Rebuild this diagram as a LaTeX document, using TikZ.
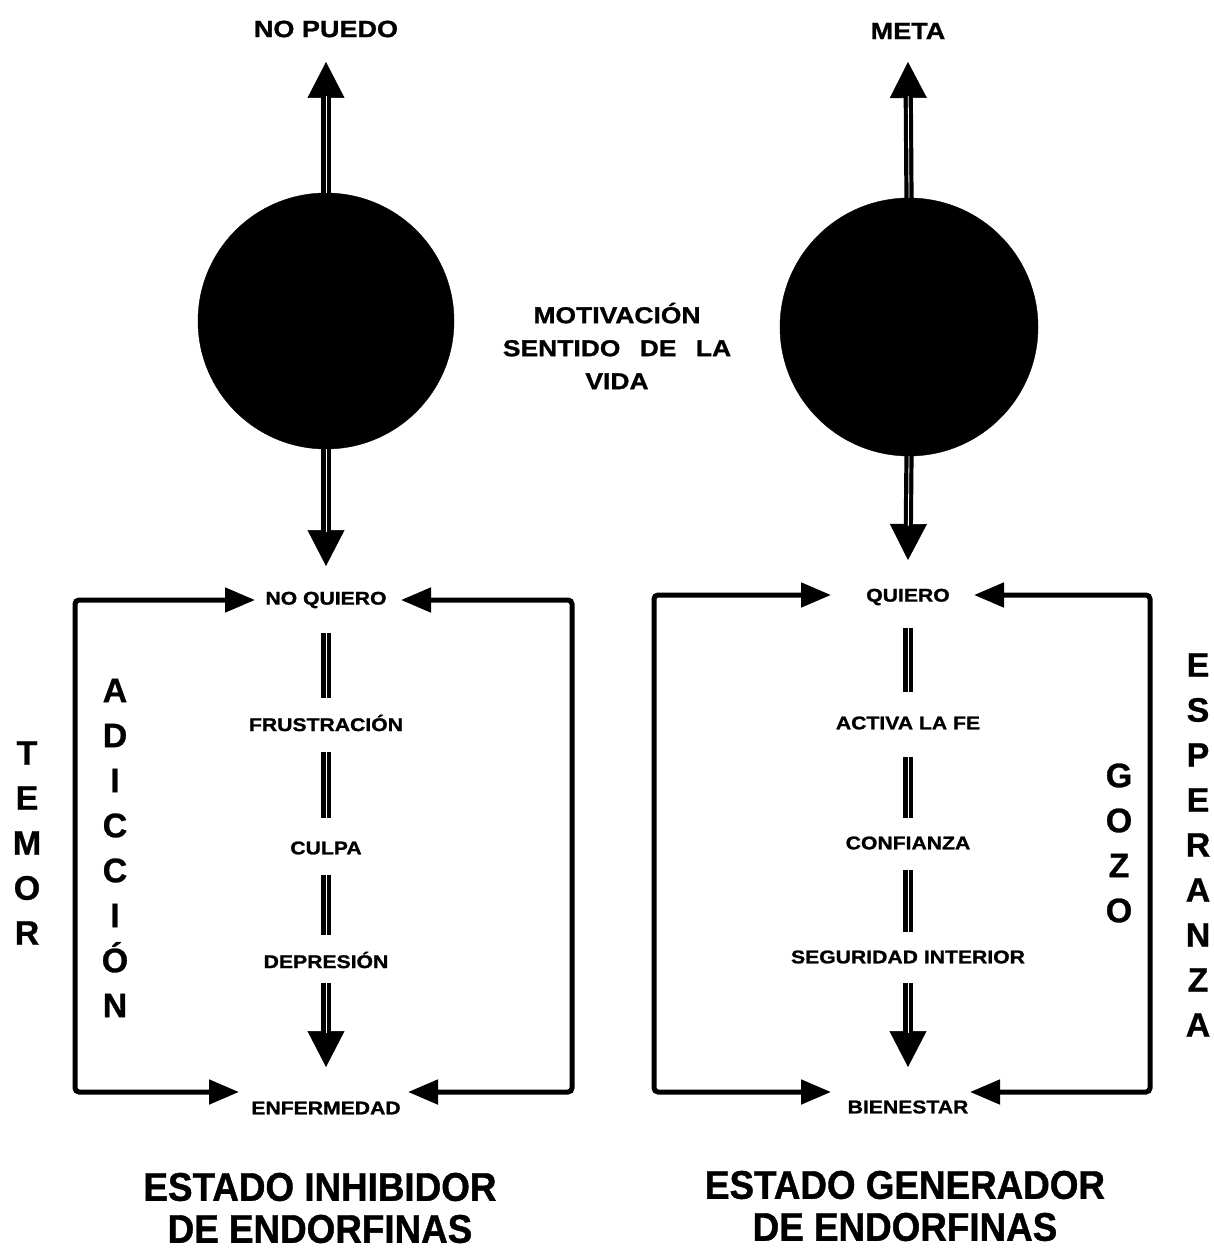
\documentclass[tikz,border=0pt]{standalone}
\usepackage{fontspec}
\setmainfont{Liberation Sans}[BoldFeatures={FakeBold=0.8}]
\newfontfamily\wf[FakeStretch=1.15, BoldFeatures={FakeBold=1.2}]{Liberation Sans}
\newfontfamily\nf[FakeStretch=0.92, BoldFeatures={FakeBold=1.0}]{Liberation Sans}
\usetikzlibrary{arrows.meta}
\begin{document}
\begin{tikzpicture}[x=1pt,y=-1pt,
  lbl/.style={font=\wf\bfseries\fontsize{18.4}{22}\selectfont, inner sep=2pt},
  toplbl/.style={font=\wf\bfseries\fontsize{23.5}{28}\selectfont, inner sep=2pt},
  midlbl/.style={font=\wf\bfseries\fontsize{23}{33}\selectfont, align=center, inner sep=0pt},
  vletters/.style={font=\bfseries\fontsize{34}{45}\selectfont, align=center, inner sep=0pt},
  title/.style={font=\nf\bfseries\fontsize{40}{42}\selectfont, align=center, inner sep=0pt},
  ball/.style={circle, fill=black, draw=black, inner sep=0pt},
  shaft/.style={draw=black, line width=4.2pt, double=white, double distance=0.8pt},
  bighead/.style={draw=black, line width=0.6pt, -{Triangle[width=37pt,length=36pt]}},
  boxarrow/.style={draw=black, line width=5pt, rounded corners=4pt,
     {Triangle[width=24pt,length=30pt]}-{Triangle[width=24pt,length=30pt]}}
]
\useasboundingbox (0,0) rectangle (1213,1249);

% ---------- left column ----------
\node[toplbl] (np) at (326,29) {NO PUEDO};
\node[ball, minimum size=256pt] (c1) at (326,321) {};
\node[lbl] (nq) at (326,600) {NO QUIERO};
\node[lbl] (fr) at (326,723) {FRUSTRACIÓN};
\node[lbl] (cu) at (326,848) {CULPA};
\node[lbl] (de) at (326,960) {DEPRESIÓN};
\node[lbl] (en) at (326,1108) {ENFERMEDAD};

\draw[bighead] (c1.north) -- ([yshift=-33pt]np.center);
\draw[shaft, shorten >=34pt] (c1.north) -- ([yshift=-33pt]np.center);
\draw[bighead] (c1.south) -- ([yshift=34pt]nq.center);
\draw[shaft, shorten >=34pt] (c1.south) -- ([yshift=34pt]nq.center);

\draw[shaft, shorten <=33pt, shorten >=25pt] (nq.center) -- (fr.center);
\draw[shaft, shorten <=29pt, shorten >=30pt] (fr.center) -- (cu.center);
\draw[shaft, shorten <=27pt, shorten >=25pt] (cu.center) -- (de.center);
\draw[bighead, shorten <=23pt] (de.center) -- ([yshift=41pt]en.center);
\draw[shaft, shorten <=23pt, shorten >=34pt] (de.center) -- ([yshift=41pt]en.center);

\draw[boxarrow] ([xshift=-71pt]nq.center) -| ([xshift=-251pt,yshift=16pt]en.center)
   -- ([xshift=-87pt,yshift=16pt]en.center);
\draw[boxarrow] ([xshift=75pt]nq.center) -| ([xshift=246pt,yshift=16pt]en.center)
   -- ([xshift=82pt,yshift=16pt]en.center);

\node[vletters] (temor) at (27,843) {T\\E\\M\\O\\R};
\node[vletters] (adic) at (115,848) {A\\D\\I\\C\\C\\I\\Ó\\N};

\node[title] (t1) at (320,1208) {ESTADO INHIBIDOR\\DE ENDORFINAS};

% ---------- middle ----------
\node[midlbl] (mot) at (617,346) {MOTIVACIÓN\\SENTIDO\hspace{12pt} DE\hspace{12pt} LA\\VIDA};

% ---------- right column ----------
\node[toplbl] (me) at (908,31) {META};
\node[ball, minimum size=258pt] (c2) at (909,327) {};
\node[lbl] (q) at (908,597) {QUIERO};
\node[lbl] (af) at (908,723) {ACTIVA LA FE};
\node[lbl] (co) at (908,843) {CONFIANZA};
\node[lbl] (si) at (908,957) {SEGURIDAD INTERIOR};
\node[lbl] (bi) at (908,1107) {BIENESTAR};

\draw[bighead] (c2.north) -- ([yshift=-31pt]me.center);
\draw[shaft, shorten >=34pt] (c2.north) -- ([yshift=-31pt]me.center);
\draw[bighead] (c2.south) -- ([yshift=37pt]q.center);
\draw[shaft, shorten >=34pt] (c2.south) -- ([yshift=37pt]q.center);

\draw[shaft, shorten <=31pt, shorten >=31pt] (q.center) -- (af.center);
\draw[shaft, shorten <=34pt, shorten >=25pt] (af.center) -- (co.center);
\draw[shaft, shorten <=27pt, shorten >=25pt] (co.center) -- (si.center);
\draw[bighead, shorten <=26pt] (si.center) -- ([yshift=40pt]bi.center);
\draw[shaft, shorten <=26pt, shorten >=34pt] (si.center) -- ([yshift=40pt]bi.center);

\draw[boxarrow] ([xshift=-77pt,yshift=2pt]q.center) -| ([xshift=-254pt,yshift=15pt]bi.center)
   -- ([xshift=-77pt,yshift=15pt]bi.center);
\draw[boxarrow] ([xshift=66pt,yshift=2pt]q.center) -| ([xshift=242pt,yshift=15pt]bi.center)
   -- ([xshift=62pt,yshift=15pt]bi.center);

\node[vletters] (gozo) at (1119,843) {G\\O\\Z\\O};
\node[vletters] (esp) at (1198,845) {E\\S\\P\\E\\R\\A\\N\\Z\\A};

\node[title] (t2) at (905,1206) {ESTADO GENERADOR\\DE ENDORFINAS};
\end{tikzpicture}
\end{document}
